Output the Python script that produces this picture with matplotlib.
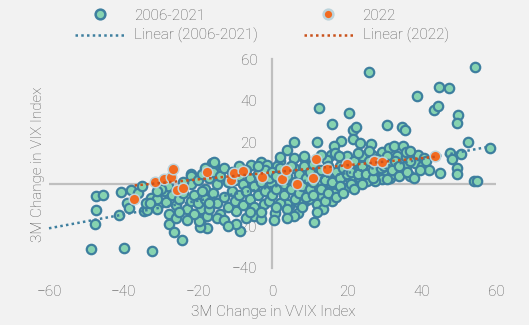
import matplotlib.pyplot as plt
from matplotlib.lines import Line2D

# -----------------------------
# Data
# -----------------------------
# 2006-2021: 3M change in VVIX (x) vs 3M change in VIX (y)
hist_x = [
    -48.6, -39.9, -32.3, -47.5, -45.4, -47.5, -47.6, -41.2, -40.8, -38.1, -39.0, -38.5,
    -34.5, -33.8, -31.1, -32.7, -30.9, -28.7, -27.8, -27.8, -26.5, -24.2, -22.0, -19.3,
    -19.3, -17.7, -19.5, -15.7, -16.2, -8.6, -9.9, -5.0, -3.2, -19.8, -17.5, -9.9,
    -2.3, 0.8, 0.5, 11.1, 6.8, 5.9, 4.4, 8.8, 12.0, 13.6, 16.0, 3.9,
    7.0, 9.7, 13.3, 16.4, 19.6, 23.1, 25.4, 29.0,
    25.8, 54.4, 12.4, 20.5, 16.0, 21.6, 22.5, 38.8, 44.6, 47.5, 43.4, 44.4,
    49.8, 49.5, 30.7, 34.8, 35.7, 21.7, 23.4, 18.5, 16.5, 12.0, 5.8, 3.9,
    26.5, 29.4, 31.2, 32.5, 35.0, 33.4, 35.9, 35.9, 52.6, 58.5, 47.6, 50.5,
    48.2, 49.5, 49.5, 45.0, 54.2, 55.0, 36.8, 37.9, 39.0, 40.6, 35.9, 38.3,
    40.1, 41.3, 42.1, 39.7, 29.8, 31.6, 29.4, 32.1, 33.4, 15.7, 14.5, 18.7,
    8.4, 24.5, 26.3, 25.4, 27.6, 30.7, 16.9, 20.0, 24.0, 26.7, 30.7,
    -22.0, -16.2, -15.8, -5.9, -3.2, 2.1, -1.4, 1.3, 5.7, 8.4, 5.7, 8.4,
    11.1, 14.7, 17.8, 18.2, 20.9, 23.6, 17.3, 20.9, 23.6, 15.5, 12.9, 7.5,
    9.3, 2.1, -0.5,
    -29, -27, -26, -25, -24, -23, -22, -22, -21, -21, -20, -20, -24, -28, -26, -23, -25,
    -19, -18, -18, -17, -17, -16, -16, -15, -15, -14, -14, -13, -13, -12, -12, -11, -11,
    -10, -10, -19, -18, -15, -13, -12, -17,
    -9, -9, -8, -8, -7, -7, -6, -6, -5, -5, -4, -4, -3, -3, -2, -2, -1, -1, 0, 0,
    -7, -6, -9, -4,
    1, 1, 2, 2, 3, 3, 4, 4, 5, 5, 6, 6, 7, 7, 8, 8, 9, 9, 10, 10, 2, 4, 1,
    11, 11, 12, 12, 13, 13, 14, 14, 15, 15, 16, 17, 17, 18, 18, 19, 19, 20, 11, 13,
    21, 21, 22, 22, 23, 24, 24, 25, 26, 27, 27, 28, 29, 30, 23, 26,
    31, 32, 33, 34, 34, 36, 37, 38, 37,
    -36, -34, -30, -35, -31, -33,
]
hist_y = [
    -31.0, -30.6, -31.7, -5.6, -5.1, -12.4, -19.0, -14.6, -3.7, -2.7, -8.7, -11.1,
    -12.7, -12.4, -11.6, -6.3, -7.1, -8.4, -14.3, -19.0, -23.0, -26.5, 4.8, -11.6,
    -16.7, -21.0, -20.6, 8.7, 9.5, -22.2, -19.0, -15.1, -16.7, -17.5, -15.1, -12.7,
    -9.5, -13.5, -17.0, -17.9, -13.8, -15.1, -10.3, -8.0, -9.5, -11.9, -8.0, -9.5,
    -8.7, -7.1, -5.6, -4.0, -1.6, 1.6, 2.4, 3.2,
    54.0, 56.3, 36.8, 34.4, 28.8, 26.0, 27.4, 42.4, 46.8, 46.3, 35.7, 37.3,
    33.3, 29.4, 28.2, 27.5, 25.9, 21.6, 19.7, 21.0, 18.2, 20.2, 20.2, 16.7,
    19.2, 15.6, 17.5, 18.4, 18.4, 13.6, 13.2, 15.4, 20.1, 17.5, 15.1, 14.6,
    12.2, 7.9, 5.0, 5.6, 1.6, 1.6, 4.2, 13.5, 14.3, 12.7, 8.7, 10.3,
    8.7, 11.1, 6.7, 7.1, 5.6, 3.2, 2.4, 4.8, 6.3, 14.3, 11.6, 11.9,
    12.7, 13.5, 8.7, 1.6, 1.6, 2.4, 15.1, 13.5, 13.5, 14.3, 13.5,
    4.0, 10.3, 10.5, 9.5, 10.5, 11.1, 9.5, 9.0, 12.7, 13.5, 7.9, 8.7,
    7.9, 5.6, 13.5, 8.7, 9.5, 7.9, 3.2, 2.4, 3.2, 0.8, 0.0, 0.8,
    2.4, 1.6, 0.8,
    -3, -5, -10, -7, -4, -12, -8, 0, -5, -14, 2, -9, 1, -1, -16, -17, -13,
    5, -2, -7, 3, -12, -4, 6, 0, -9, -14, 4, -6, 8, 1, -11, -3, 6,
    -8, 2, -3, 8, -16, -17, -20, -9,
    -5, 4, 0, -10, 7, -3, -7, 3, -1, -11, 5, -5, 1, -13, 7, -3, -8, 3, -5, 6,
    -16, -13, 9, 9,
    -2, 4, -9, 8, 0, -5, 4, -12, -2, 9, 1, -7, 5, -4, -1, -11, 3, -6, 6, -2, 13, -16, -11,
    1, -5, 4, -13, 7, -2, 2, -8, 9, -4, 1, 6, -6, 3, -1, 8, -4, 5, 10, 14,
    0, 6, 11, -2, 5, 9, 0, 5, 11, 3, 7, 12, 8, 9, 15, 16,
    10, 7, 11, 4, 9, 6, 11, 3, 16,
    -4, -9, -2, -1, -3, -9,
]

# 2022
y22_x = [-37.2, -31.6, -29.1, -27.2, -26.6, -25.6, -24.0, -17.7, -11.1, -10.4, -7.9,
         -2.7, 2.6, 3.5, 6.6, 10.9, 11.8, 14.7, 20.0, 27.3, 29.3, 43.7]
y22_y = [-7.1, 1.0, 2.4, 3.4, 7.3, -2.7, -1.9, 6.0, 1.9, 5.4, 6.3,
         3.5, 2.4, 7.1, 0.3, 2.9, 12.0, 7.2, 9.8, 11.4, 10.8, 13.5]

# linear trendlines (end points)
trend_hist_x = [-60, 58]
trend_hist_y = [-21, 18]
trend_22_x = [-37, 43.7]
trend_22_y = [-0.5, 13.2]

# -----------------------------
# Style
# -----------------------------
bg = "#F2F2F2"
txt = "#595959"
axis_col = "#BFBFBF"
green = "#86D3B0"
teal = "#3E7F9F"
orange = "#F26B21"
orange_edge = "#BCD3DB"
trend_orange = "#C9521B"

plt.rcParams["font.family"] = ["Roboto", "DejaVu Sans"]
plt.rcParams["font.weight"] = "light"

fig = plt.figure(figsize=(5.29, 3.25), dpi=100, facecolor=bg)
ax = fig.add_axes([0.0926, 0.1754, 0.845, 0.643])
ax.set_facecolor(bg)
ax.set_xlim(-60, 60)
ax.set_ylim(-40, 60)

# axis lines crossing at zero
for s in ["top", "right", "bottom"]:
    ax.spines[s].set_visible(False)
ax.spines["left"].set_position(("data", 0))
ax.spines["left"].set_color(axis_col)
ax.spines["left"].set_linewidth(1.6)
ax.axhline(0, color=axis_col, lw=1.6, zorder=1)

ax.set_xticks([-60, -40, -20, 0, 20, 40, 60])
ax.set_yticks([-40, -20, 0, 20, 40, 60])
ax.tick_params(axis="x", length=0, pad=12, labelsize=11, labelcolor=txt)
ax.tick_params(axis="y", length=0, pad=11, labelsize=11, labelcolor=txt)
for lab in ax.get_xticklabels() + ax.get_yticklabels():
    lab.set_fontweight("light")

# trendlines + points
ax.scatter(hist_x, hist_y, s=46, c=green, edgecolors=teal, linewidths=1.6,
           zorder=3, clip_on=False)
ax.plot(trend_hist_x, trend_hist_y, color=teal, lw=1.8, linestyle=(0, (1, 1.3)),
        zorder=4, clip_on=False)
ax.scatter(y22_x, y22_y, s=58, c=orange, edgecolors=orange_edge, linewidths=1.1,
           zorder=5, clip_on=False)
ax.plot(trend_22_x, trend_22_y, color=trend_orange, lw=1.8, linestyle=(0, (1, 1.3)),
        zorder=6, clip_on=False)

fig.text(38 / 529, 1 - 164 / 325, "3M Change in VIX Index", rotation=90,
         ha="center", va="center", fontsize=11, color=txt)
fig.text(273 / 529, 1 - 312 / 325, "3M Change in VVIX Index",
         ha="center", va="center", fontsize=11, color=txt)

# legend
handles = [
    Line2D([], [], ls="none", marker="o", ms=7, mfc=green, mec=teal, mew=1.8),
    Line2D([], [], color=teal, lw=1.8, ls=(0, (1, 1.3))),
    Line2D([], [], ls="none", marker="o", ms=7, mfc=orange, mec=orange_edge, mew=1.8),
    Line2D([], [], color=trend_orange, lw=1.8, ls=(0, (1, 1.3))),
]
labels = ["2006-2021", "Linear (2006-2021)", "2022", "Linear (2022)"]
fig.legend(handles, labels, ncol=2, loc="center", bbox_to_anchor=(262 / 529, 1 - 26 / 325),
           frameon=False, fontsize=11, labelcolor=txt, handlelength=3.2,
           handletextpad=0.65, columnspacing=3.0, labelspacing=0.35)

plt.savefig("out.png", dpi=100, facecolor=bg)
